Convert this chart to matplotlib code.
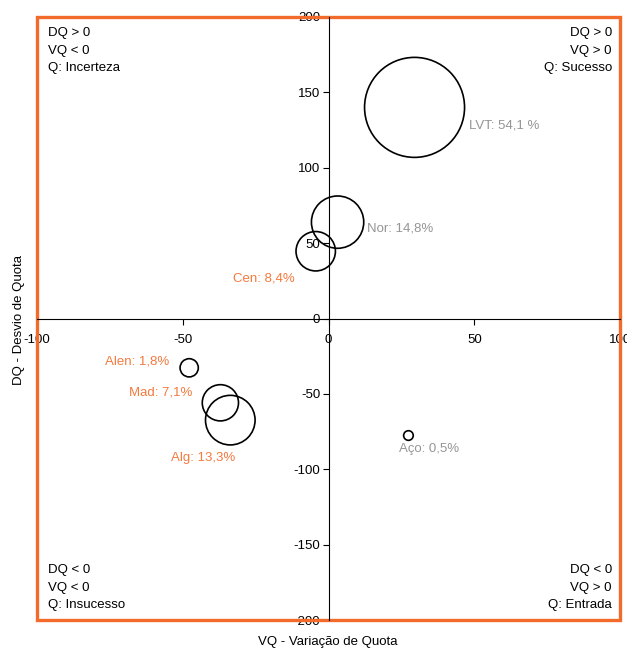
import matplotlib
matplotlib.use('Agg')
import matplotlib.pyplot as plt
from matplotlib.patches import Rectangle

plt.rcParams['font.family'] = ['Liberation Sans', 'DejaVu Sans']
plt.rcParams['axes.unicode_minus'] = False

regions = ['LVT', 'Nor', 'Cen', 'Alen', 'Mad', 'Alg', 'Aço']
vq = [29.5, 3.1, -4.4, -47.8, -37.1, -33.7, 27.4]
dq = [140.0, 63.9, 44.6, -32.7, -55.9, -67.4, -77.6]
share = [54.1, 14.8, 8.4, 1.8, 7.1, 13.3, 0.5]
labels = ['LVT: 54,1 %', 'Nor: 14,8%', 'Cen: 8,4%', 'Alen: 1,8%',
          'Mad: 7,1%', 'Alg: 13,3%', 'Aço: 0,5%']
label_colors = ['#959595', '#959595', '#F47A3F', '#F47A3F',
                '#F47A3F', '#F47A3F', '#959595']
offsets = [(39.5, -13, 'left'), (21.5, -4.5, 'left'), (-15, -19.5, 'right'),
           (-14, 4.8, 'right'), (-20, 7.6, 'right'), (-19.5, -27, 'center'),
           (14.5, -10, 'center')]

quadrants = [
    (0.019, 0.983, 'left', 'top', 'DQ > 0\nVQ < 0\nQ: Incerteza'),
    (0.986, 0.983, 'right', 'top', 'DQ > 0\nVQ > 0\nQ: Sucesso'),
    (0.019, 0.015, 'left', 'bottom', 'DQ < 0\nVQ < 0\nQ: Insucesso'),
    (0.986, 0.015, 'right', 'bottom', 'DQ < 0\nVQ > 0\nQ: Entrada'),
]

fig = plt.figure(figsize=(6.27, 6.5), dpi=100)
ax = fig.add_axes([0.059, 0.046, 0.930, 0.928])

scale = 5184 / 54.1
ax.scatter(vq, dq, s=[v * scale for v in share], facecolors='none',
           edgecolors='black', linewidths=1.2, zorder=3)

for x, y, lab, c, (dx, dy, ha) in zip(vq, dq, labels, label_colors, offsets):
    ax.annotate(lab, xy=(x, y), xytext=(dx, dy), textcoords='offset points',
                ha=ha, va='center', color=c, fontsize=9.5)

for x, y, ha, va, txt in quadrants:
    ax.text(x, y, txt, transform=ax.transAxes, ha=ha, va=va, fontsize=9.5,
            linespacing=1.6)

ax.set_xlim(-100, 100)
ax.set_ylim(-200, 200)
ax.set_xticks([-100, -50, 0, 50, 100])
ax.set_yticks([-200, -150, -100, -50, 0, 50, 100, 150, 200])
ax.spines['left'].set_position(('data', 0))
ax.spines['bottom'].set_position(('data', 0))
ax.spines['top'].set_visible(False)
ax.spines['right'].set_visible(False)
for s in ['left', 'bottom']:
    ax.spines[s].set_linewidth(0.8)
    ax.spines[s].set_zorder(4)
ax.tick_params(direction='out', length=4, width=0.8, labelsize=9.5, pad=2)
ax.tick_params(axis='x', pad=7)

ax.add_patch(Rectangle((0, 0), 1, 1, transform=ax.transAxes, fill=False,
                       edgecolor='#F26B2A', linewidth=2.4, clip_on=False,
                       zorder=2))

fig.text(0.03, 0.508, 'DQ - Desvio de Quota', rotation=90, ha='center',
         va='center', fontsize=9.5)
fig.text(0.522, 0.012, 'VQ - Variação de Quota', ha='center', va='center',
         fontsize=9.5)

fig.savefig('out.png', dpi=100)
